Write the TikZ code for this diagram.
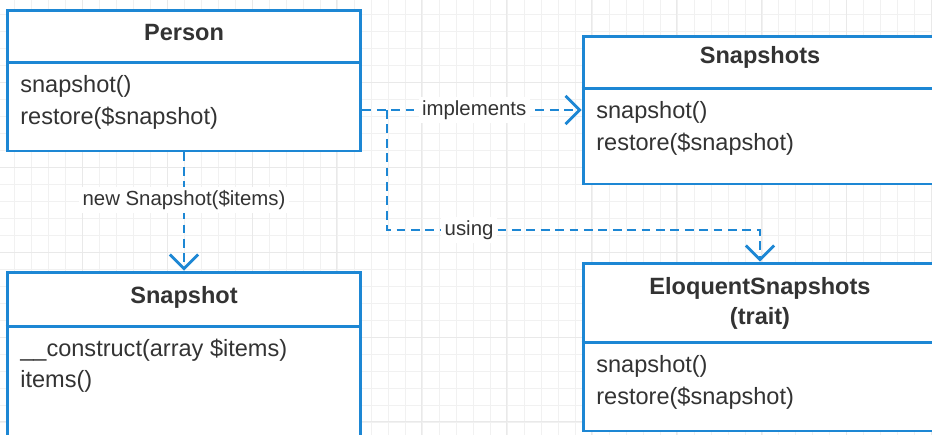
\documentclass[tikz,border=0pt]{standalone}
\usepackage{fontspec}
\setmainfont{Liberation Sans}
\usetikzlibrary{arrows.meta}
\usepackage{xcolor}

\definecolor{umlblue}{HTML}{1D87D4}
\definecolor{umltext}{HTML}{333333}

\tikzset{
  classbox/.style={draw=umlblue, line width=1.7pt, fill=white, inner sep=0pt},
  divider/.style={draw=umlblue, line width=1.7pt},
  classname/.style={font=\fontsize{13.4}{17}\selectfont\bfseries, text=umltext, align=center, inner sep=0pt},
  method/.style={font=\fontsize{13.4}{16}\selectfont, text=umltext, anchor=west, inner sep=0pt},
  dep/.style={draw=umlblue, line width=1.6pt, dash pattern=on 5pt off 3.2pt,
    -{Straight Barb[length=8pt,width=16pt,line width=1.6pt]}},
  deplabel/.style={font=\fontsize{11.6}{14}\selectfont, text=umltext, fill=white, inner sep=2pt},
  gridminor/.style={draw=gray!11, line width=0.4pt},
  gridmajor/.style={draw=gray!17, line width=0.5pt}
}

\begin{document}
\begin{tikzpicture}[x=0.02cm, y=-0.02cm]

\useasboundingbox (0,0) rectangle (932,434);
\clip (0,0) rectangle (932,434);

% Background grid
\fill[white] (0,0) rectangle (932,434);
\draw[gridminor, shift={(-3,-3)}] (0,0) grid[step=0.34cm] (950,450);
\draw[gridmajor, shift={(-3,-3)}] (0,0) grid[step=1.7cm] (950,450);

% Person class (top left)
\node[classbox, minimum width=7.08cm, minimum height=2.82cm] (person) at (184,80.5) {};
\draw[divider] (person.west |- 0,62) -- (person.east |- 0,62);
\node[classname] (personname) at (184,33) {Person};
\node[method] (personsnap) at (20,86) {snapshot()};
\node[method] (personrest) at (20,118) {restore(\$snapshot)};

% Snapshots interface (top right)
\node[classbox, minimum width=7.08cm, minimum height=2.96cm] (snapshots) at (760,110) {};
\draw[divider] (snapshots.west |- 0,88) -- (snapshots.east |- 0,88);
\node[classname] (snapshotsname) at (760,57) {Snapshots};
\node[method] (snapshotssnap) at (596,112) {snapshot()};
\node[method] (snapshotsrest) at (596,144) {restore(\$snapshot)};

% Snapshot class (bottom left)
\node[classbox, minimum width=7.08cm, minimum height=3.36cm] (snapshot) at (184,356) {};
\draw[divider] (snapshot.west |- 0,326) -- (snapshot.east |- 0,326);
\node[classname] (snapshotname) at (184,297) {Snapshot};
\node[method] (snapshotcons) at (20,350) {\_\_construct(array \$items)};
\node[method] (snapshotitems) at (20,381) {items()};

% EloquentSnapshots trait (bottom right)
\node[classbox, minimum width=7.08cm, minimum height=3.36cm] (eloquent) at (760,347) {};
\draw[divider] (eloquent.west |- 0,342) -- (eloquent.east |- 0,342);
\node[classname] (eloquentname) at (760,303) {EloquentSnapshots\\(trait)};
\node[method] (eloquentsnap) at (596,366) {snapshot()};
\node[method] (eloquentrest) at (596,398) {restore(\$snapshot)};

% Dependencies
\draw[dep] (person.south) -- node[deplabel, pos=0.4] (newlabel) {new Snapshot(\$items)} (snapshot.north);
\draw[dep] (person.east |- snapshots.west) -- node[deplabel, pos=0.51] (implabel) {implements} (snapshots.west);

\coordinate (split) at (387,110);
\coordinate (bend) at (eloquent.north |- 0,230);
\draw[dep] (split) |- node[deplabel, pos=0.61] (uselabel) {using} (bend) -- (eloquent.north);

\end{tikzpicture}
\end{document}
